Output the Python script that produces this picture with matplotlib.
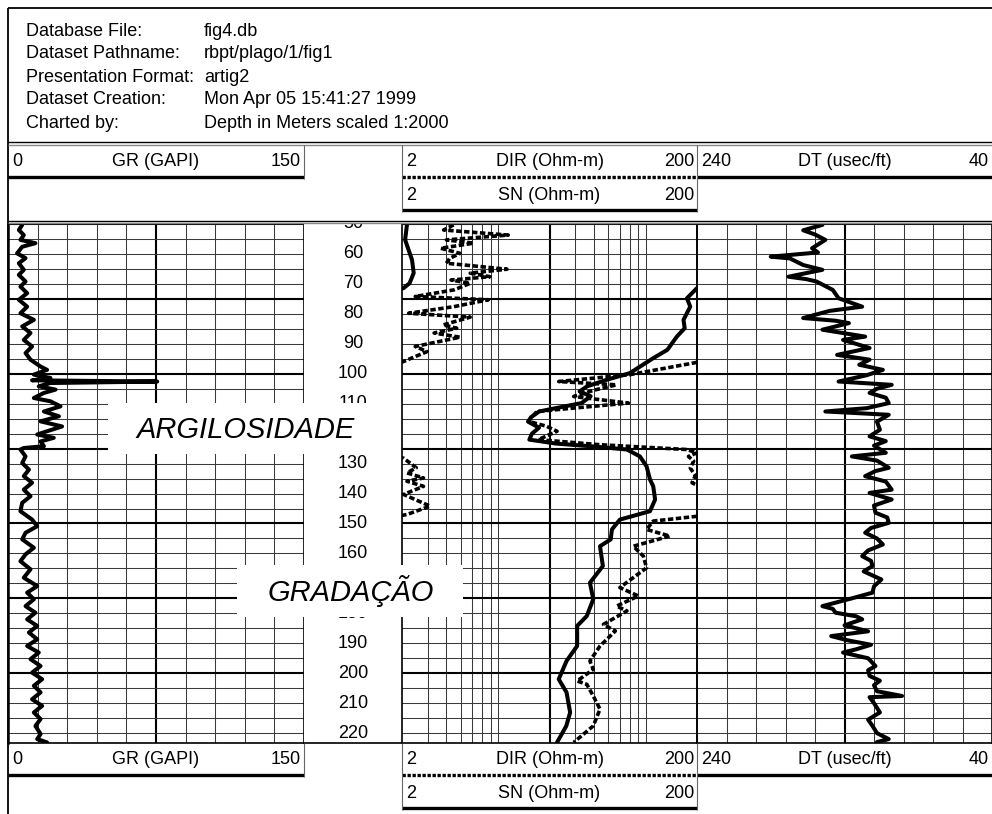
import numpy as np
import matplotlib
matplotlib.use("Agg")
import matplotlib.pyplot as plt
from matplotlib.patches import Rectangle
from matplotlib.ticker import FixedLocator, MultipleLocator, NullFormatter

plt.rcParams['font.family'] = ['Liberation Sans', 'DejaVu Sans']

W, H = 992, 814

# header block
info_labels = ["Database File:", "Dataset Pathname:", "Presentation Format:",
               "Dataset Creation:", "Charted by:"]
info_values = ["fig4.db", "rbpt/plago/1/fig1", "artig2",
               "Mon Apr 05 15:41:27 1999", "Depth in Meters scaled 1:2000"]

# depth range (m)
depth_top, depth_bot = 50, 223.3
depth_labels = list(range(50, 230, 10))

# curve scales
gr_scale = (0, 150)
res_scale = (2, 200)
dt_scale = (240, 40)

# (depth, value)
gr_log = [(50.3, 7.2), (52.0, 5.5), (53.7, 8.0), (55.3, 6.3), (56.4, 13.9), (57.6, 7.2),
          (59.8, 4.6), (61.4, 8.9), (63.1, 5.5), (65.3, 8.0), (67.0, 5.5), (69.2, 8.9),
          (70.9, 6.3), (73.1, 9.7), (75.3, 5.5), (77.6, 9.7), (79.8, 6.3), (82.0, 13.1),
          (84.2, 7.2), (86.4, 11.4), (88.7, 8.0), (90.9, 12.2), (93.1, 8.9), (95.3, 11.4),
          (97.6, 16.5), (98.7, 19.8), (100.3, 13.1), (101.4, 21.5), (102.2, 12.2),
          (102.6, 75.6), (103.1, 21.5), (104.2, 15.6), (105.3, 24.1), (106.4, 18.2),
          (108.1, 13.1), (109.2, 21.5), (110.9, 26.6), (112.6, 18.2), (114.2, 25.8),
          (115.9, 16.5), (117.6, 27.4), (119.2, 19.8), (120.3, 14.8), (121.4, 23.2),
          (122.6, 16.5), (124.2, 18.2), (124.8, 8.0), (125.3, 6.3), (127.6, 8.9),
          (129.8, 7.2), (132.0, 10.6), (134.2, 8.0), (136.4, 12.2), (138.7, 8.0),
          (140.9, 11.4), (143.1, 7.2), (145.9, 6.3), (148.7, 12.2), (150.9, 14.8),
          (153.1, 8.9), (155.3, 7.2), (158.1, 13.1), (160.3, 8.9), (162.6, 6.3),
          (165.3, 11.4), (168.1, 8.0), (170.9, 14.8), (173.1, 9.7), (175.3, 13.1),
          (177.6, 8.9), (179.8, 13.9), (182.0, 9.7), (184.2, 14.8), (186.4, 10.6),
          (188.7, 14.8), (190.9, 9.7), (193.1, 15.6), (195.3, 11.4), (197.6, 16.5),
          (199.8, 12.2), (202.0, 17.3), (204.2, 13.1), (206.4, 16.5), (208.7, 12.2),
          (210.9, 17.3), (213.1, 13.1), (215.3, 16.5), (217.6, 13.9), (220.3, 16.5),
          (222.0, 14.8), (223.1, 19.8)]

# DIR wraps around the 2-200 scale, so it comes in pieces
dir_top = [(50.3, 4.48), (52.0, 3.83), (53.7, 10.5), (55.3, 4.0), (56.4, 6.1), (58.1, 3.66),
           (59.8, 4.95), (61.5, 4.2), (63.1, 4.0), (65.1, 10.3), (66.4, 5.8), (67.6, 7.9),
           (68.7, 4.3), (69.8, 5.8), (72.0, 4.5), (74.2, 2.46), (75.3, 7.7), (77.6, 4.5),
           (79.8, 2.22), (81.1, 5.8), (83.7, 3.8), (84.8, 4.7), (86.4, 3.3), (87.8, 4.95),
           (90.9, 2.46), (92.6, 2.96), (95.9, 2.05), (96.5, 1.9)]
dir_mid = [(96.2, 200), (100.3, 70.4), (102.6, 23.1), (103.7, 56.9), (105.5, 40),
           (107.6, 29.2), (109.8, 68.5), (112.6, 16.4), (115.9, 14.4), (117.5, 19),
           (119.2, 22.5), (122.0, 16.8), (123.7, 44), (125.3, 170), (126.4, 200),
           (127.6, 175), (129.2, 190), (131.5, 180), (134.0, 195), (136.4, 185), (137.5, 205)]
dir_wrap = [(127.8, 1.9), (128.2, 2.05), (131.4, 2.5), (133.1, 2.16), (134.8, 2.8),
            (135.9, 2.16), (137.6, 2.8), (140.3, 2.05), (144.2, 3.1), (147.0, 2.16), (147.5, 1.9)]
dir_low = [(147.6, 200), (149.2, 101), (152.0, 91), (154.2, 131), (157.6, 74), (160.9, 86.6),
           (164.8, 91), (171.4, 60), (174.2, 80), (177.6, 57), (179.2, 67), (183.7, 46.4),
           (185.9, 55.9), (190.9, 44), (195.9, 37.6), (198.7, 39.6), (202.6, 30.8),
           (203.7, 35.8), (207.6, 39.6), (212.0, 44), (217.6, 39.6), (223.1, 29.2)]

sn_top = [(50.3, 2.16), (55.3, 2.1), (62.0, 2.34), (66.4, 2.4), (69.8, 2.25), (71.4, 2.05),
          (71.8, 1.95)]
sn_main = [(71.2, 205), (71.4, 200), (74.8, 171), (77.6, 180), (82.0, 162), (84.8, 165),
           (87.6, 146), (92.0, 126), (94.8, 101), (99.8, 70), (102.0, 49), (104.2, 36),
           (105.9, 32), (107.5, 38), (109.8, 33), (111.5, 22), (112.6, 17), (114.5, 15),
           (116.0, 14.3), (118.0, 17), (120.0, 15.2), (122.0, 14.6), (123.3, 22), (124.3, 40),
           (125.3, 67), (127.6, 82), (130.9, 91), (135.3, 96), (137.6, 101), (142.0, 104),
           (145.9, 96), (148.7, 60), (152.0, 53), (155.3, 52), (157.6, 44), (164.2, 46),
           (169.8, 37.6), (175.3, 39.6), (180.9, 35.8), (184.2, 30.8), (190.9, 30.8),
           (195.9, 26.1), (202.0, 23.1), (206.4, 26.1), (213.1, 27.6), (217.6, 26.0),
           (223.1, 22.5)]

dt_log = [(50.3, 155), (52.1, 168), (53.5, 160), (55.3, 153), (58.1, 162), (59.5, 158),
          (60.9, 190), (61.5, 177), (63.7, 168), (65.3, 155), (67.6, 178), (68.4, 166),
          (69.2, 159), (72.0, 148), (74.8, 144), (77.6, 128), (79.0, 150), (81.4, 168),
          (82.3, 146), (83.1, 137), (85.3, 155), (87.6, 126), (88.7, 141), (91.4, 123),
          (93.7, 145), (95.3, 123), (97.0, 130), (98.7, 114), (100.5, 125), (102.6, 144),
          (103.7, 108), (105.0, 118), (106.4, 123), (108.0, 112), (109.8, 110), (111.5, 125),
          (112.6, 153), (113.7, 110), (116.0, 118), (118.7, 116), (120.9, 123), (122.5, 112),
          (124.0, 120), (126.4, 112), (127.6, 135), (129.0, 118), (131.4, 110), (132.5, 119),
          (134.2, 126), (136.0, 112), (138.7, 108), (139.8, 123), (142.0, 108), (144.0, 120),
          (146.4, 119), (148.0, 111), (149.8, 110), (151.5, 122), (153.1, 126), (155.0, 118),
          (157.0, 114), (159.0, 124), (160.9, 128), (162.5, 122), (164.2, 121), (166.0, 127),
          (168.7, 115), (171.0, 120), (173.1, 121), (175.0, 135), (177.6, 155), (178.5, 148),
          (179.8, 146), (181.0, 132), (182.0, 128), (184.0, 140), (186.0, 124), (187.6, 149),
          (189.0, 138), (190.5, 122), (192.0, 132), (193.1, 141), (195.0, 124), (197.6, 119),
          (199.0, 124), (200.9, 123), (202.5, 116), (204.0, 120), (206.0, 118), (207.6, 101),
          (208.0, 123), (210.0, 120), (213.1, 116), (215.5, 124), (217.6, 121), (220.0, 118),
          (222.0, 110), (223.0, 118)]


def join(*segs):
    # stitch wrapped pieces with a NaN break between them
    out = []
    for s in segs:
        out.extend(s)
        out.append((np.nan, np.nan))
    a = np.array(out[:-1], dtype=float)
    return a[:, 0], a[:, 1]


fig = plt.figure(figsize=(W / 100, H / 100), dpi=100)
fig.patch.set_facecolor('white')


def px_axes(x0, y0, x1, y1, **kw):
    return fig.add_axes([x0 / W, 1 - y1 / H, (x1 - x0) / W, (y1 - y0) / H], **kw)


# track geometry (pixels)
X0, X_GR, X_DEP, X_RES, X_DT = 8, 304, 402, 697, 992
Y_TOP, Y_BOT = 224, 743


def setup_track(ax):
    ax.set_ylim(depth_bot, depth_top)
    ax.yaxis.set_major_locator(MultipleLocator(25))
    ax.yaxis.set_minor_locator(MultipleLocator(5))
    ax.tick_params(which='both', length=0, labelleft=False, labelbottom=False)
    ax.grid(which='minor', color='#3a3a3a', lw=0.75)
    ax.grid(which='major', color='black', lw=1.5)
    ax.set_axisbelow(True)
    ax.spines['top'].set_visible(False)
    for s in ('left', 'right', 'bottom'):
        ax.spines[s].set_linewidth(1.2)


curve_kw = dict(color='black', lw=2.9, solid_joinstyle='round', solid_capstyle='round')

# GR track
ax_gr = px_axes(X0, Y_TOP, X_GR, Y_BOT)
setup_track(ax_gr)
ax_gr.set_xlim(*gr_scale)
ax_gr.xaxis.set_major_locator(FixedLocator([75]))
ax_gr.xaxis.set_minor_locator(MultipleLocator(15))
ax_gr.spines['left'].set_linewidth(1.8)
d, v = join(gr_log)
ax_gr.plot(v, d, **curve_kw)

# depth track
ax_dep = px_axes(X_GR, Y_TOP, X_DEP, Y_BOT)
ax_dep.set_ylim(depth_bot, depth_top)
ax_dep.set_xticks([])
ax_dep.set_yticks([])
for s in ('top', 'left', 'right'):
    ax_dep.spines[s].set_visible(False)
ax_dep.spines['bottom'].set_linewidth(1.2)
for dl in depth_labels:
    ax_dep.text(0.5, dl, str(dl), transform=ax_dep.get_yaxis_transform(),
                ha='center', va='center', fontsize=13, clip_on=True)

# resistivity track
ax_res = px_axes(X_DEP, Y_TOP, X_RES, Y_BOT)
ax_res.set_xscale('log')
setup_track(ax_res)
ax_res.set_xlim(*res_scale)
ax_res.xaxis.set_major_locator(FixedLocator([20]))
ax_res.xaxis.set_minor_locator(FixedLocator([3, 4, 5, 6, 7, 8, 9, 30, 40, 50, 60, 70, 80, 90]))
ax_res.xaxis.set_minor_formatter(NullFormatter())
ax_res.xaxis.set_major_formatter(NullFormatter())
d, v = join(sn_top, sn_main)
ax_res.plot(v, d, **curve_kw)
d, v = join(dir_top, dir_mid, dir_wrap, dir_low)
ax_res.plot(v, d, color='black', lw=2.6, linestyle=(0, (1.5, 0.7)))

# DT track
ax_dt = px_axes(X_RES, Y_TOP, X_DT, Y_BOT)
setup_track(ax_dt)
ax_dt.set_xlim(*dt_scale)
ax_dt.xaxis.set_major_locator(FixedLocator([140]))
ax_dt.xaxis.set_minor_locator(MultipleLocator(20))
d, v = join(dt_log)
ax_dt.plot(v, d, **curve_kw)

# overlay in pixel coordinates: frames, headers, annotations
ax_o = fig.add_axes([0, 0, 1, 1], zorder=10)
ax_o.set_xlim(0, W)
ax_o.set_ylim(H, 0)
ax_o.axis('off')
ax_o.patch.set_alpha(0)


def hline(y, x0, x1, **kw):
    ax_o.plot([x0, x1], [y, y], color=kw.pop('color', 'black'), solid_capstyle='butt', **kw)


def vline(x, y0, y1, **kw):
    ax_o.plot([x, x], [y0, y1], color=kw.pop('color', 'black'), solid_capstyle='butt', **kw)


vline(X0, 8, H, lw=1.3)
hline(8, X0, W, lw=1.3)
hline(142, X0, W, lw=1.0)
hline(144.5, X0, W, lw=1.0, color='#888888')
hline(220.5, X0, W, lw=1.0)
hline(223, X0, W, lw=1.0, color='#888888')

fs = 13
for i, (lab, val) in enumerate(zip(info_labels, info_values)):
    y = 31 + 23 * i
    ax_o.text(26, y, lab, va='center', fontsize=fs)
    ax_o.text(204, y, val, va='center', fontsize=fs)


def curve_header(x0, x1, y, left, name, right, line_y, dashed=False):
    ax_o.text(x0 + 4, y, left, va='center', ha='left', fontsize=fs)
    ax_o.text((x0 + x1) / 2, y, name, va='center', ha='center', fontsize=fs)
    ax_o.text(x1 - 3, y, right, va='center', ha='right', fontsize=fs)
    if dashed:
        hline(line_y, x0, x1, lw=2.4, linestyle=(0, (1.0, 0.5)))
    else:
        hline(line_y, x0, x1, lw=2.4)


for base in (0, 598):
    r1, l1 = 162 + base, 177 + base
    r2, l2 = 195 + base, 210 + base
    curve_header(X0, X_GR, r1, "0", "GR (GAPI)", "150", l1)
    curve_header(X_DEP, X_RES, r1, "2", "DIR (Ohm-m)", "200", l1, dashed=True)
    curve_header(X_DEP, X_RES, r2, "2", "SN (Ohm-m)", "200", l2)
    curve_header(X_RES, X_DT, r1, "240", "DT (usec/ft)", "40", l1)
    top = 145 if base == 0 else Y_BOT
    vline(X_GR, top, l1 + 2, lw=0.8, color='#666666')
    vline(X_DEP, top, l2 + 2, lw=0.8, color='#666666')
    vline(X_RES, top, l2 + 2, lw=0.8, color='#666666')

# annotations on white boxes
ax_o.add_patch(Rectangle((108, 403), X_DEP - 1 - 108, 51, facecolor='white', edgecolor='none'))
ax_o.text(246, 430, "ARGILOSIDADE", style='italic', fontsize=21, ha='center', va='center')
ax_o.add_patch(Rectangle((237, 565), 226, 52, facecolor='white', edgecolor='none'))
ax_o.text(351, 591, "GRADAÇÃO", style='italic', fontsize=21, ha='center', va='center')

fig.savefig('out.png', dpi=100)
